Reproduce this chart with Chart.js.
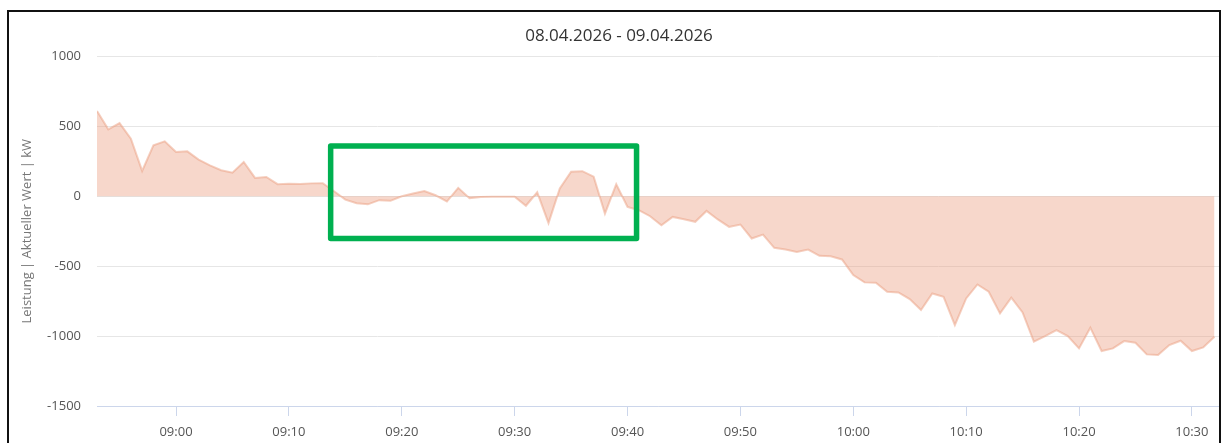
<!DOCTYPE html>
<html>
<head>
<meta charset="utf-8">
<script src="https://cdn.jsdelivr.net/npm/chart.js@4.4.1/dist/chart.umd.min.js"></script>
<style>
  html, body { margin: 0; padding: 0; background: #fff; overflow: hidden; }
  .frame {
    position: absolute;
    left: 7px;
    top: 10px;
    width: 1210px;
    height: 440px;
    border: 2px solid #111;
    overflow: hidden;
  }
  .frame canvas { display: block; }
</style>
</head>
<body>
<div class="frame">
  <canvas id="chart" width="1210" height="431"></canvas>
</div>
<script>
// one value per minute, 08:53 .. 10:32
const startTime = '08:53';
const values = [
  610, 478, 523, 412, 181, 364, 393, 316, 321, 262,
  221, 186, 169, 245, 131, 138, 86, 90, 88, 92,
  93, 36, -24, -50, -58, -28, -33, 0, 19, 37,
  7, -38, 60, -14, -5, -3, -3, -3, -68, 28,
  -192, 55, 176, 179, 140, -124, 86, -76, -100, -143,
  -207, -148, -164, -183, -105, -166, -219, -202, -302, -274,
  -369, -381, -398, -381, -426, -429, -452, -564, -616, -619,
  -683, -688, -735, -814, -695, -719, -921, -731, -631, -683,
  -838, -725, -831, -1040, -1000, -957, -1000, -1088, -940, -1107,
  -1088, -1036, -1048, -1131, -1136, -1064, -1033, -1107, -1081, -1005
];
const yTicks = [-1500, -1000, -500, 0, 500, 1000];
const chartTitle = '08.04.2026 - 09.04.2026';
const yTitle = 'Leistung | Aktueller Wert | kW';

// highlighted range (green box), in time / kW
const highlightTime = ['09:13:42', '09:40:48'];
const highlightValue = [360, -302];

const toMinutes = (t) => {
  const [h, m, s] = t.split(':').map(Number);
  return h * 60 + m + (s || 0) / 60;
};
const fmt = (v) => {
  const h = Math.floor(v / 60);
  const m = Math.round(v - h * 60);
  return String(h).padStart(2, '0') + ':' + String(m).padStart(2, '0');
};

const start = toMinutes(startTime);
const points = values.map((v, i) => ({ x: start + i, y: v }));

const highlightBox = {
  id: 'highlightBox',
  afterDatasetsDraw(chart) {
    const { ctx, scales: { x, y } } = chart;
    const x0 = x.getPixelForValue(toMinutes(highlightTime[0]));
    const x1 = x.getPixelForValue(toMinutes(highlightTime[1]));
    const y0 = y.getPixelForValue(highlightValue[0]);
    const y1 = y.getPixelForValue(highlightValue[1]);
    ctx.save();
    ctx.strokeStyle = '#00b050';
    ctx.lineWidth = 5.5;
    ctx.lineJoin = 'round';
    ctx.strokeRect(x0, y0, x1 - x0, y1 - y0);
    ctx.restore();
  }
};

new Chart(document.getElementById('chart'), {
  type: 'line',
  data: {
    datasets: [{
      data: points,
      fill: 'origin',
      backgroundColor: 'rgba(236, 160, 130, 0.42)',
      borderColor: 'rgba(236, 160, 130, 0.5)',
      borderWidth: 2,
      pointRadius: 0,
      tension: 0
    }]
  },
  options: {
    responsive: false,
    animation: false,
    layout: { padding: { left: 10, right: 0, top: 0, bottom: 0 } },
    plugins: {
      legend: { display: false },
      tooltip: { enabled: false },
      title: {
        display: true,
        text: chartTitle,
        color: '#333',
        font: { family: 'Open Sans', size: 17, weight: 'normal' },
        padding: { top: 14, bottom: 10 }
      }
    },
    scales: {
      x: {
        type: 'linear',
        min: start,
        max: start + 99.4,
        afterFit(s) { s.height = 37; },
        ticks: {
          stepSize: 10,
          includeBounds: false,
          autoSkip: false,
          maxRotation: 0,
          padding: 8,
          color: '#555',
          font: { family: 'Open Sans', size: 13 },
          callback: (v) => fmt(v)
        },
        grid: {
          display: true,
          drawOnChartArea: false,
          drawTicks: true,
          tickLength: 10,
          color: '#ccd6eb'
        },
        border: { display: true, color: '#ccd6eb', width: 1 }
      },
      y: {
        min: yTicks[0],
        max: yTicks[yTicks.length - 1],
        afterFit(s) { s.width = 78; },
        afterBuildTicks(s) { s.ticks = yTicks.map((v) => ({ value: v })); },
        ticks: {
          padding: 16,
          color: '#555',
          font: { family: 'Open Sans', size: 13 },
          callback: (v) => String(v)
        },
        grid: { color: '#e6e6e6', drawTicks: false },
        border: { display: false },
        title: {
          display: true,
          text: yTitle,
          color: '#777',
          font: { family: 'Open Sans', size: 13 },
          padding: { top: 0, bottom: 4 }
        }
      }
    }
  },
  plugins: [highlightBox]
});
</script>
</body>
</html>
